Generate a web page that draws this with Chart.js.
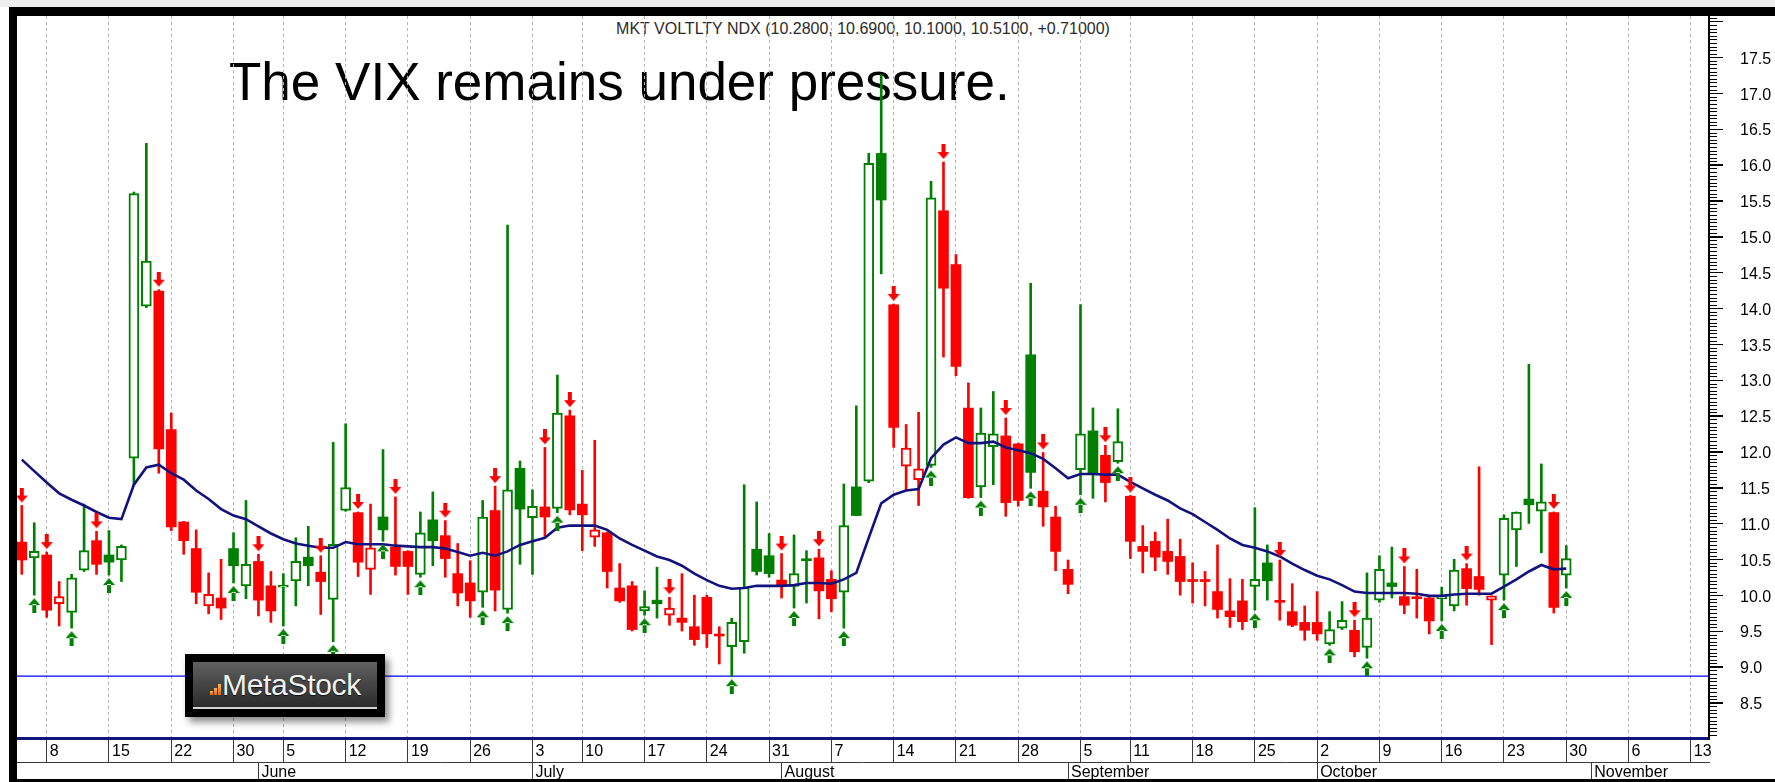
<!DOCTYPE html>
<html>
<head>
<meta charset="utf-8">
<title>MKT VOLTLTY NDX</title>
<script src="https://cdn.jsdelivr.net/npm/chart.js@4.4.1/dist/chart.umd.min.js"></script>
<style>
html, body { margin: 0; padding: 0; background: #fff; }
body { position: relative; width: 1775px; height: 782px; overflow: hidden; font-family: "Liberation Sans", Arial, sans-serif; }
.frame { position: absolute; background: #000; }
#topGray { position: absolute; left: 0; top: 0; width: 1775px; height: 7px; background: #eeeeee; }
#header { position: absolute; left: 17px; top: 21px; width: 1692px; text-align: center; font-size: 16px; line-height: 16px; color: #2b2b2b; white-space: nowrap; z-index: 1; }
#headline { position: absolute; left: 229px; top: 55px; font-size: 53px; line-height: 53px; color: #000; white-space: nowrap; z-index: 1; }
#chartBox { position: absolute; left: 17px; top: 16px; width: 1758px; height: 763px; z-index: 2; }
#logo { position: absolute; left: 185px; top: 654px; width: 200px; height: 63px; background: #000; box-shadow: 4px 5px 7px rgba(0,0,0,0.45); z-index: 3; }
#logoPanel { position: absolute; left: 8px; top: 8px; width: 184px; height: 45px; border-bottom: 2px solid #d4d4d4;
  background: linear-gradient(#626262, #474747 45%, #2c2c2c 100%); overflow: hidden; }
#logoText { position: absolute; left: 29px; top: 8px; font-size: 30px; line-height: 30px; color: #f2f2f2; letter-spacing: -0.3px; text-shadow: 0 1px 1px #111; }
.lb { position: absolute; bottom: 12px; width: 3px; background: linear-gradient(#ffb347, #d9661a); }
</style>
</head>
<body>
<div id="topGray"></div>
<div class="frame" style="left:9px;top:7px;width:1766px;height:9px"></div>
<div class="frame" style="left:9px;top:7px;width:8px;height:775px"></div>
<div class="frame" style="left:9px;top:779px;width:1766px;height:3px"></div>
<div id="header">MKT VOLTLTY NDX (10.2800, 10.6900, 10.1000, 10.5100, +0.71000)</div>
<div id="headline">The VIX remains under pressure.</div>
<div id="chartBox"><canvas id="vix" width="1758" height="763"></canvas></div>
<div id="logo"><div id="logoPanel">
  <span class="lb" style="left:17px;height:4px"></span>
  <span class="lb" style="left:21px;height:7px"></span>
  <span class="lb" style="left:25px;height:11px"></span>
  <span id="logoText">MetaStock</span>
</div></div>
<script>
// trading sessions, numbered from Monday 8 May (= 0); first visible bar is 4 May
const FIRST_DAY = -2;

const opens = [
  10.74, 10.52, 10.56, 9.88, 9.76, 10.35, 10.76, 10.56, 10.49, 11.91,
  14.03, 14.24, 12.31, 11.02, 10.65, 9.85, 9.96, 10.65, 10.13, 10.47,
  10.13, 10.11, 10.20, 10.53, 10.32, 9.94, 11.18, 11.15, 10.36, 11.09,
  10.67, 10.61, 10.29, 11.05, 10.83, 10.30, 10.17, 10.04, 11.18, 9.80,
  11.77, 11.08, 11.23, 11.21, 12.50, 11.27, 10.81, 10.87, 10.10, 10.13,
  9.78, 9.93, 9.72, 9.68, 9.56, 9.97, 9.45, 9.28, 9.35, 10.64,
  10.55, 10.21, 10.12, 10.50, 10.52, 10.22, 10.04, 11.51, 11.59, 16.16,
  14.05, 11.80, 11.61, 11.81, 15.36, 14.61, 12.61, 11.51, 12.07, 12.22,
  12.11, 13.35, 11.45, 11.09, 10.36, 11.75, 12.29, 11.95, 11.86, 11.38,
  10.68, 10.75, 10.61, 10.54, 10.21, 10.21, 10.05, 9.78, 9.92, 10.12,
  10.45, 9.92, 9.77, 9.62, 9.62, 9.32, 9.54, 9.51, 9.27, 9.93,
  10.17, 9.98, 9.97, 9.96, 9.95, 9.85, 10.37, 10.26, 9.93, 10.28,
  10.91, 11.34, 11.17, 11.15, 10.28
];
const highs = [
  11.25, 11.01, 10.60, 10.19, 10.29, 11.27, 10.89, 10.90, 10.70, 15.62,
  16.30, 14.26, 12.54, 11.03, 10.91, 10.31, 10.50, 10.87, 11.32, 10.57,
  10.33, 10.30, 10.80, 10.96, 10.55, 12.13, 12.39, 11.16, 11.27, 12.03,
  11.37, 10.62, 11.16, 11.44, 11.04, 10.72, 10.48, 11.32, 11.52, 15.16,
  11.87, 11.47, 12.06, 13.07, 12.58, 11.74, 12.16, 10.88, 10.44, 10.19,
  10.06, 10.39, 9.97, 10.30, 10.00, 10.00, 9.56, 9.68, 11.54, 11.30,
  10.86, 10.58, 10.84, 10.62, 10.64, 10.34, 11.55, 12.64, 16.16, 17.26,
  14.06, 12.38, 12.55, 15.77, 16.04, 14.75, 12.96, 12.61, 12.84, 12.47,
  12.12, 14.35, 11.99, 11.24, 10.49, 14.05, 12.61, 12.09, 12.60, 11.39,
  10.97, 10.88, 11.06, 10.78, 10.45, 10.33, 10.70, 10.23, 10.22, 11.22,
  10.70, 10.49, 10.16, 9.85, 10.05, 9.77, 9.91, 9.65, 10.31, 10.55,
  10.67, 10.40, 10.36, 9.99, 10.11, 10.50, 10.44, 11.79, 9.99, 11.12,
  11.16, 13.22, 11.83, 11.16, 10.69
];
const lows = [
  10.29, 10.00, 9.69, 9.57, 9.54, 10.33, 10.29, 10.28, 10.19, 11.54,
  14.01, 11.70, 10.90, 10.57, 9.88, 9.74, 9.66, 10.17, 9.95, 9.71,
  9.62, 9.57, 9.85, 10.13, 9.73, 9.35, 11.17, 10.26, 10.01, 10.75,
  10.28, 10.01, 10.25, 10.41, 10.25, 9.85, 9.69, 9.83, 9.78, 9.75,
  10.43, 10.29, 10.82, 11.15, 11.12, 10.62, 10.68, 10.10, 9.90, 9.50,
  9.72, 9.68, 9.58, 9.50, 9.30, 9.27, 9.04, 8.87, 9.19, 10.28,
  10.25, 9.96, 9.82, 9.89, 9.67, 9.77, 9.54, 11.11, 11.57, 14.48,
  12.06, 11.46, 11.25, 11.78, 13.32, 13.06, 11.35, 11.36, 11.54, 11.10,
  11.24, 11.49, 10.96, 10.34, 10.02, 11.40, 11.35, 11.30, 11.84, 10.51,
  10.31, 10.34, 10.29, 10.00, 9.89, 9.85, 9.68, 9.55, 9.52, 9.79,
  9.93, 9.65, 9.56, 9.37, 9.37, 9.30, 9.52, 9.14, 9.12, 9.90,
  9.96, 9.74, 9.68, 9.46, 9.64, 9.78, 9.86, 10.00, 9.31, 9.93,
  10.40, 11.00, 10.59, 9.75, 10.10
];
const closes = [
  10.49, 10.61, 9.79, 9.98, 10.24, 10.62, 10.43, 10.46, 10.68, 15.60,
  14.66, 12.04, 10.95, 10.76, 10.04, 10.01, 9.82, 10.41, 10.43, 9.93,
  9.78, 10.13, 10.47, 10.41, 10.19, 10.71, 11.50, 10.46, 10.66, 10.91,
  10.40, 10.40, 10.87, 10.76, 10.51, 10.03, 9.92, 11.09, 10.07, 11.47,
  11.20, 11.24, 11.09, 12.54, 11.19, 11.12, 10.91, 10.33, 9.92, 9.52,
  9.84, 9.88, 9.82, 9.62, 9.38, 9.46, 9.43, 9.62, 10.11, 10.33,
  10.30, 10.13, 10.30, 10.48, 10.06, 9.95, 10.97, 11.11, 16.02, 15.51,
  12.34, 12.05, 11.76, 15.54, 14.28, 13.19, 11.36, 12.26, 12.25, 11.29,
  11.32, 11.71, 11.23, 10.61, 10.15, 12.25, 11.70, 11.57, 12.14, 10.75,
  10.61, 10.53, 10.47, 10.19, 10.19, 10.19, 9.80, 9.70, 9.63, 10.22,
  10.20, 9.90, 9.58, 9.51, 9.46, 9.52, 9.65, 9.21, 9.68, 10.36,
  10.12, 9.86, 9.95, 9.64, 9.98, 10.35, 10.09, 10.08, 9.99, 11.07,
  11.16, 11.26, 11.30, 9.83, 10.51
];
// 1 = bullish (green) bar, 0 = bearish (red) bar
const bullish = [
  0,1,0,0,1,1,0,1,1,1,
  1,0,0,0,0,0,0,1,1,0,
  0,1,1,1,0,1,1,0,0,1,
  0,0,1,1,0,0,0,1,0,1,
  1,1,0,1,0,0,0,0,0,0,
  1,1,0,0,0,0,0,1,1,1,
  1,0,1,1,0,0,1,1,1,1,
  0,0,0,1,0,0,0,1,1,0,
  0,1,0,0,0,1,1,0,1,0,
  0,0,0,0,0,0,0,0,0,1,
  1,0,0,0,0,1,1,0,1,1,
  1,0,0,0,1,1,0,0,0,1,
  1,1,1,0,1
];
const movingAvg = [
  11.89, 11.73, 11.57, 11.42, 11.33, 11.25, 11.16, 11.08, 11.06, 11.54,
  11.78, 11.82, 11.70, 11.61, 11.46, 11.34, 11.20, 11.11, 11.06, 10.96,
  10.86, 10.78, 10.72, 10.69, 10.66, 10.66, 10.74, 10.71, 10.71, 10.71,
  10.69, 10.68, 10.67, 10.67, 10.65, 10.60, 10.55, 10.59, 10.55, 10.61,
  10.70, 10.75, 10.80, 10.94, 10.97, 10.97, 10.97, 10.91, 10.79, 10.70,
  10.62, 10.54, 10.49, 10.41, 10.30, 10.21, 10.13, 10.09, 10.10, 10.13,
  10.13, 10.13, 10.14, 10.17, 10.17, 10.16, 10.22, 10.31, 10.80, 11.28,
  11.40, 11.46, 11.48, 11.91, 12.10, 12.20, 12.12, 12.12, 12.14, 12.06,
  12.02, 11.98, 11.90, 11.77, 11.63, 11.69, 11.69, 11.68, 11.68, 11.58,
  11.49, 11.40, 11.32, 11.21, 11.13, 11.02, 10.91, 10.79, 10.70, 10.66,
  10.61, 10.54, 10.44, 10.35, 10.27, 10.22, 10.14, 10.05, 10.03, 10.03,
  10.03, 10.03, 10.02, 9.99, 9.99, 10.01, 10.02, 10.02, 10.02, 10.12,
  10.22, 10.33, 10.42, 10.36, 10.37
];
const sellArrows = [-2, 0, 4, 9, 17, 22, 25, 28, 32, 36, 40, 42, 50, 59, 62, 68, 72, 77, 80, 85, 87, 99, 105, 109, 114, 121];
const buyArrows = [-1, 2, 5, 15, 19, 23, 27, 30, 35, 37, 41, 48, 55, 60, 64, 71, 75, 79, 83, 86, 97, 103, 106, 112, 117, 122];
const supportLevel = 8.87;

const weekTicks = [0, 5, 10, 15, 19, 24, 29, 34, 39, 43, 48, 53, 58, 63, 68, 73, 78, 83, 87, 92, 97, 102, 107, 112, 117, 122, 127, 132];
const weekLabels = ['8', '15', '22', '30', '5', '12', '19', '26', '3', '10', '17', '24', '31', '7', '14', '21', '28', '5', '11', '18', '25', '2', '9', '16', '23', '30', '6', '13'];
const monthTicks = [17, 39, 59, 82, 102, 124];
const monthLabels = ['June', 'July', 'August', 'September', 'October', 'November'];
const yTicks = [8.5, 9.0, 9.5, 10.0, 10.5, 11.0, 11.5, 12.0, 12.5, 13.0, 13.5, 14.0, 14.5, 15.0, 15.5, 16.0, 16.5, 17.0, 17.5];
const yTickLabels = ['8.5', '9.0', '9.5', '10.0', '10.5', '11.0', '11.5', '12.0', '12.5', '13.0', '13.5', '14.0', '14.5', '15.0', '15.5', '16.0', '16.5', '17.0', '17.5'];

const X_MIN = -2.385, X_MAX = 133.46;
const Y_MIN = 8.008, Y_MAX = 18.076;
const GREEN = '#008000', RED = '#ff0000';
const FONT = { family: '"Liberation Sans", Arial, sans-serif', size: 16 };

const days = opens.map((_, i) => FIRST_DAY + i);
const colorOf = i => bullish[i] ? GREEN : RED;
const hollow = i => closes[i] > opens[i];

// signal arrow image; the point sits on the high / low, arrow drawn 3px away
function arrowIcon(color, down) {
  const c = document.createElement('canvas');
  c.width = 12; c.height = 36;
  const g = c.getContext('2d');
  g.fillStyle = color;
  g.beginPath();
  if (down) {
    g.rect(4, 0, 4, 9);
    g.moveTo(0, 8); g.lineTo(12, 8); g.lineTo(6, 15); g.closePath();
  } else {
    g.rect(4, 27, 4, 9);
    g.moveTo(0, 28); g.lineTo(12, 28); g.lineTo(6, 21); g.closePath();
  }
  g.fill();
  return c;
}

// fine tick marks on the price axis
const minorTicks = {
  id: 'minorTicks',
  afterDraw(chart) {
    const s = chart.scales.y, ctx = chart.ctx;
    ctx.save();
    ctx.strokeStyle = '#000';
    ctx.lineWidth = 1;
    ctx.beginPath();
    for (let k = 161; k <= 361; k++) {
      const v = k * 0.05;
      if (v > s.max) break;
      const y = Math.round(s.getPixelForValue(v)) + 0.5;
      const len = (k % 10 === 0) ? 14 : 8;
      ctx.moveTo(s.left, y);
      ctx.lineTo(s.left + len, y);
    }
    ctx.stroke();
    ctx.restore();
  }
};

new Chart(document.getElementById('vix'), {
  type: 'bar',
  data: {
    datasets: [
      {
        type: 'scatter',
        data: sellArrows.map(d => ({ x: d, y: highs[d - FIRST_DAY] })),
        pointStyle: arrowIcon(RED, true), pointRadius: 5, order: 0
      },
      {
        type: 'scatter',
        data: buyArrows.map(d => ({ x: d, y: lows[d - FIRST_DAY] })),
        pointStyle: arrowIcon(GREEN, false), pointRadius: 5, order: 0
      },
      {
        type: 'line',
        data: days.map((d, i) => ({ x: d, y: movingAvg[i] })),
        borderColor: '#12127e', borderWidth: 2.6, pointRadius: 0, tension: 0, order: 1
      },
      {
        data: days.map((d, i) => ({ x: d, y: [Math.min(opens[i], closes[i]), Math.max(opens[i], closes[i])] })),
        backgroundColor: days.map((_, i) => hollow(i) ? '#ffffff' : colorOf(i)),
        borderColor: days.map((_, i) => colorOf(i)),
        borderWidth: days.map((_, i) => hollow(i) ? 2 : 0),
        borderSkipped: false, minBarLength: 2,
        grouped: false, categoryPercentage: 1, barPercentage: 1,
        barThickness: 10, maxBarThickness: 10, order: 2
      },
      {
        data: days.map((d, i) => ({ x: d, y: [lows[i], highs[i]] })),
        backgroundColor: days.map((_, i) => colorOf(i)),
        borderWidth: 0,
        grouped: false, categoryPercentage: 1, barPercentage: 1,
        barThickness: 2, maxBarThickness: 2, order: 3
      },
      {
        type: 'line',
        data: [{ x: X_MIN, y: supportLevel }, { x: X_MAX, y: supportLevel }],
        borderColor: '#0000ff', borderWidth: 1.3, pointRadius: 0, order: 4
      }
    ]
  },
  options: {
    responsive: false,
    animation: false,
    devicePixelRatio: 1,
    events: [],
    layout: { padding: 0, autoPadding: false },
    plugins: { legend: { display: false }, tooltip: { enabled: false } },
    scales: {
      x: {
        type: 'linear', axis: 'x', position: 'bottom', weight: 0,
        min: X_MIN, max: X_MAX, offset: false, stacked: false,
        afterBuildTicks: s => { s.ticks = weekTicks.map(v => ({ value: v })); },
        afterFit: s => { s.height = 24; s.paddingLeft = 0; s.paddingRight = 0; },
        grid: { color: '#b2b2b2', lineWidth: 1, offset: false, drawOnChartArea: true, drawTicks: true,
                tickLength: 24, tickColor: '#3a3a3a', tickWidth: 1, tickBorderDash: [] },
        border: { display: true, color: '#14147e', width: 3, dash: [3, 3] },
        ticks: { autoSkip: false, maxRotation: 0, minRotation: 0, align: 'start', labelOffset: 3,
                 padding: -20, color: '#000', font: FONT, callback: (v, i) => weekLabels[i] }
      },
      x2: {
        type: 'linear', axis: 'x', position: 'bottom', weight: 1,
        min: X_MIN, max: X_MAX, offset: false,
        afterBuildTicks: s => { s.ticks = monthTicks.map(v => ({ value: v })); },
        afterFit: s => { s.height = 17; s.paddingLeft = 0; s.paddingRight = 0; },
        grid: { drawOnChartArea: false, drawTicks: true, offset: false, tickLength: 17,
                tickColor: '#3a3a3a', tickWidth: 1, tickBorderDash: [] },
        border: { display: true, color: '#3a3a3a', width: 1 },
        ticks: { autoSkip: false, maxRotation: 0, minRotation: 0, align: 'start', labelOffset: 3,
                 padding: -16, color: '#000', font: FONT, callback: (v, i) => monthLabels[i] }
      },
      y: {
        type: 'linear', position: 'right', min: Y_MIN, max: Y_MAX, beginAtZero: false, stacked: false,
        afterBuildTicks: s => { s.ticks = yTicks.map(v => ({ value: v })); },
        afterFit: s => { s.width = 66; s.paddingTop = 0; s.paddingBottom = 0; },
        grid: { drawOnChartArea: false, drawTicks: true, tickLength: 14, tickColor: '#000', tickWidth: 1 },
        border: { display: true, color: '#000', width: 2 },
        ticks: { padding: 17, crossAlign: 'near', labelOffset: 2, color: '#000', font: FONT, callback: (v, i) => yTickLabels[i] }
      }
    }
  },
  plugins: [minorTicks]
});
</script>
</body>
</html>
